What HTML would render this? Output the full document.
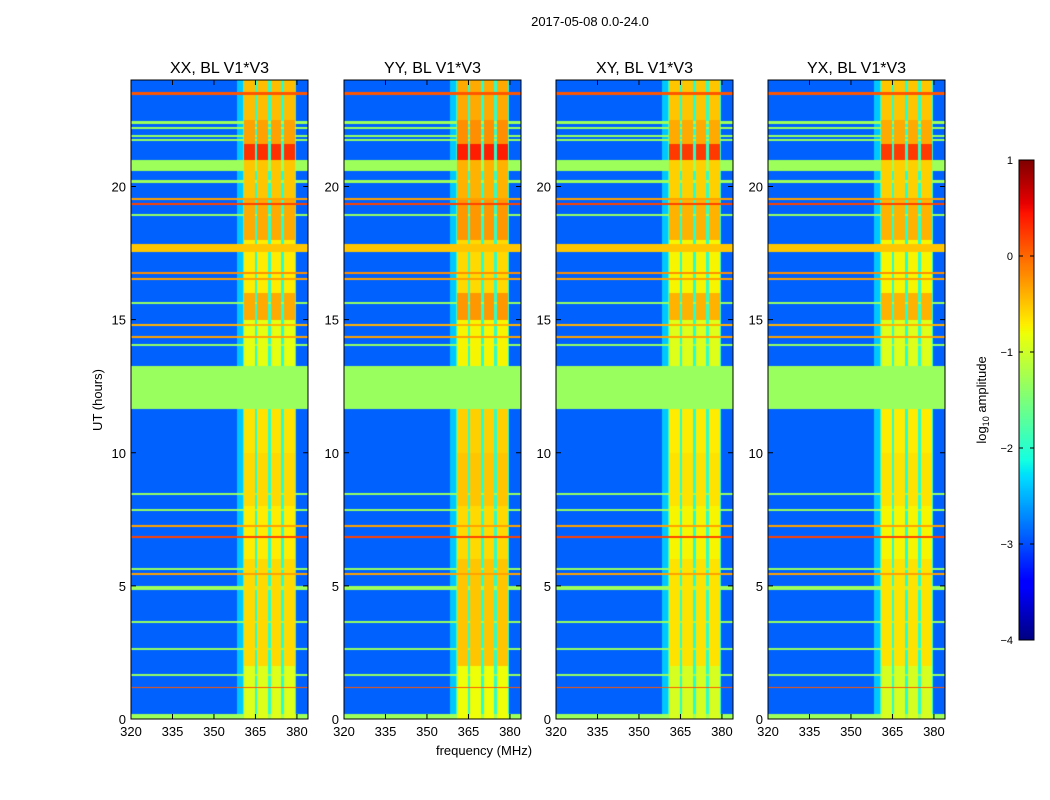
<!DOCTYPE html>
<html><head><meta charset="utf-8"><style>
body{margin:0;background:#fff;width:1050px;height:800px;overflow:hidden;font-family:"Liberation Sans",sans-serif}
canvas{position:absolute;left:0;top:0}
svg{position:absolute;left:0;top:0}
</style></head><body>
<canvas id="c" width="1050" height="800"></canvas>
<svg id="s" width="1050" height="800"></svg>
<script>
// ---- data ----
const panelTitles = ["XX, BL V1*V3","YY, BL V1*V3","XY, BL V1*V3","YX, BL V1*V3"];
const xTicks = [320,335,350,365,380];
const yTicks = [0,5,10,15,20];
const cbTicks = [1,0,-1,-2,-3,-4];
const backgroundLevel = -2.9;
const bandEdges = [360.5,365.2,370,374.8,379.6];   // bright sub-band edges (MHz)
// full-width horizontal features: [startHour, endHour, log10 value]
const lineStart = [23.45,22.35,22.15,21.85,21.7,20.6,20.15,19.5,19.3,18.9,17.55,16.7,16.5,15.6,14.75,14.3,14.0,11.65,8.4,7.8,7.2,6.8,5.6,5.4,4.85,3.6,2.6,1.6,1.15,0.0];
const lineEnd   = [23.55,22.45,22.25,21.95,21.8,21.0,20.25,19.58,19.38,18.98,17.85,16.78,16.58,15.68,14.83,14.38,14.08,13.25,8.48,7.88,7.28,6.88,5.68,5.48,5.0,3.68,2.68,1.7,1.22,0.2];
const lineValue = [0.1,-1.3,-1.3,-1.35,-1.35,-1.3,-1.3,-0.3,0.2,-1.35,-0.5,-0.2,-0.3,-1.35,-0.4,-0.3,-1.35,-1.32,-1.35,-1.35,-0.3,0.2,-1.35,-0.3,-1.3,-1.35,-1.35,-1.35,0.1,-1.3];
// bright-band (360-380 MHz) level by time segment
const brightStart = [0,2,4,6,8,10,13.25,15,16,18,19.5,21.0,21.6,22.5];
const brightEnd   = [2,4,6,8,10,11.65,15,16,18,19.5,21.0,21.6,22.5,24];
const brightValue = [-0.9,-0.6,-0.6,-0.7,-0.6,-0.65,-0.85,-0.35,-0.7,-0.35,-0.5,0.3,-0.3,-0.45];
const panelBoost = [0,0.1,-0.05,-0.05];

// ---- layout ----
const panelX = [131,344,556,768], PW=177, PT=80, PH=639;
const fmin=320,fmax=384, hmax=24;
const xs=(f,i)=>panelX[i]+(f-fmin)/(fmax-fmin)*PW;
const ys=h=>PT+PH-(h/hmax)*PH;
const JR=[[0,0],[0.35,0],[0.66,1],[0.89,1],[1,0.5]];
const JG=[[0,0],[0.125,0],[0.375,1],[0.64,1],[0.91,0],[1,0]];
const JB=[[0,0.5],[0.11,1],[0.34,1],[0.65,0],[1,0]];
function seg(s,t){for(let k=1;k<s.length;k++) if(t<=s[k][0]){const a=s[k-1],b=s[k];return a[1]+(b[1]-a[1])*(t-a[0])/(b[0]-a[0]);}return s[s.length-1][1];}
function jet(v){let t=(v+4)/5;t=Math.max(0,Math.min(1,t));
 return `rgb(${Math.round(255*seg(JR,t))},${Math.round(255*seg(JG,t))},${Math.round(255*seg(JB,t))})`;}
const ctx=document.getElementById('c').getContext('2d');
function valueAt(h,f,i){
 let v=backgroundLevel;
 const inBright=f>=bandEdges[0]&&f<bandEdges[bandEdges.length-1];
 if(f>=358.5&&f<bandEdges[0]) v=-2.4;
 if(inBright){for(let k=0;k<brightStart.length;k++) if(h>=brightStart[k]&&h<brightEnd[k]) v=brightValue[k]+panelBoost[i];
   for(const e of bandEdges) if(Math.abs(f-e)<0.45) v=-2.0;}
 for(let k=0;k<lineStart.length;k++) if(h>=lineStart[k]&&h<lineEnd[k]){ if(lineStart[k]===11.65) return lineValue[k]; v=inBright?Math.max(v,lineValue[k]):lineValue[k];}
 return v;}
for(let i=0;i<4;i++){
 for(let py=0;py<PH;py++){
  const h=(PH-py-0.5)/PH*hmax;
  for(let px=0;px<PW;px++){
   const f=fmin+(px+0.5)/PW*(fmax-fmin);
   ctx.fillStyle=jet(valueAt(h,f,i));
   ctx.fillRect(panelX[i]+px,PT+py,1,1);
  }}}
// colorbar
for(let y=0;y<480;y++){ctx.fillStyle=jet(1-y/480*5);ctx.fillRect(1019,160+y,15,1);}

// ---- overlay svg ----
const S=document.getElementById('s'),NS='http://www.w3.org/2000/svg';
function el(t,a,txt){const e=document.createElementNS(NS,t);for(const k in a)e.setAttribute(k,a[k]);if(txt!==undefined)e.textContent=txt;S.appendChild(e);return e;}
let t=el('text',{x:590,y:26,'text-anchor':'middle','font-size':13},'2017-05-08 0.0-24.0');


for(let i=0;i<4;i++){
 let r=el('rect',{x:panelX[i],y:PT,width:PW,height:PH,fill:'none',stroke:'#000','stroke-width':1});
 
 
 let tt=el('text',{x:panelX[i]+PW/2,y:73,'text-anchor':'middle','font-size':16},panelTitles[i]);
 
 
 for(const f of xTicks){const x=xs(f,i);
  el('line',{x1:x,x2:x,y1:PT+PH,y2:PT+PH-5,stroke:'#000'});
  el('line',{x1:x,x2:x,y1:PT,y2:PT+5,stroke:'#000'});
  let l=el('text',{x:x,y:736,'text-anchor':'middle','font-size':13},f);
  
  }
 for(const h of yTicks){const y=ys(h);
  el('line',{x1:panelX[i],x2:panelX[i]+5,y1:y,y2:y,stroke:'#000'});
  el('line',{x1:panelX[i]+PW,x2:panelX[i]+PW-5,y1:y,y2:y,stroke:'#000'});
  let l=el('text',{x:panelX[i]-5,y:y+5,'text-anchor':'end','font-size':13},h);
  
  }
}
let xl=el('text',{x:484,y:755,'text-anchor':'middle','font-size':13},'frequency (MHz)');


let yl=el('text',{x:0,y:0,'text-anchor':'middle','font-size':13,transform:'translate(102,400) rotate(-90)'},'UT (hours)');


let cb=el('rect',{x:1019,y:160,width:15,height:480,fill:'none',stroke:'#000'});


for(const v of cbTicks){const y=160+(1-v)/5*480;
 el('line',{x1:1019,x2:1023,y1:y,y2:y,stroke:'#000'});
 el('line',{x1:1034,x2:1030,y1:y,y2:y,stroke:'#000'});
 let l=el('text',{x:1013,y:y+4,'text-anchor':'end','font-size':11},v<0?'\u2212'+(-v):v);
 
 }
let cl=el('text',{x:0,y:0,'text-anchor':'middle','font-size':13,transform:'translate(986,400) rotate(-90)'});
cl.innerHTML='log<tspan font-size="9" dy="3">10</tspan><tspan dy="-3"> amplitude</tspan>';


</script>
</body></html>
